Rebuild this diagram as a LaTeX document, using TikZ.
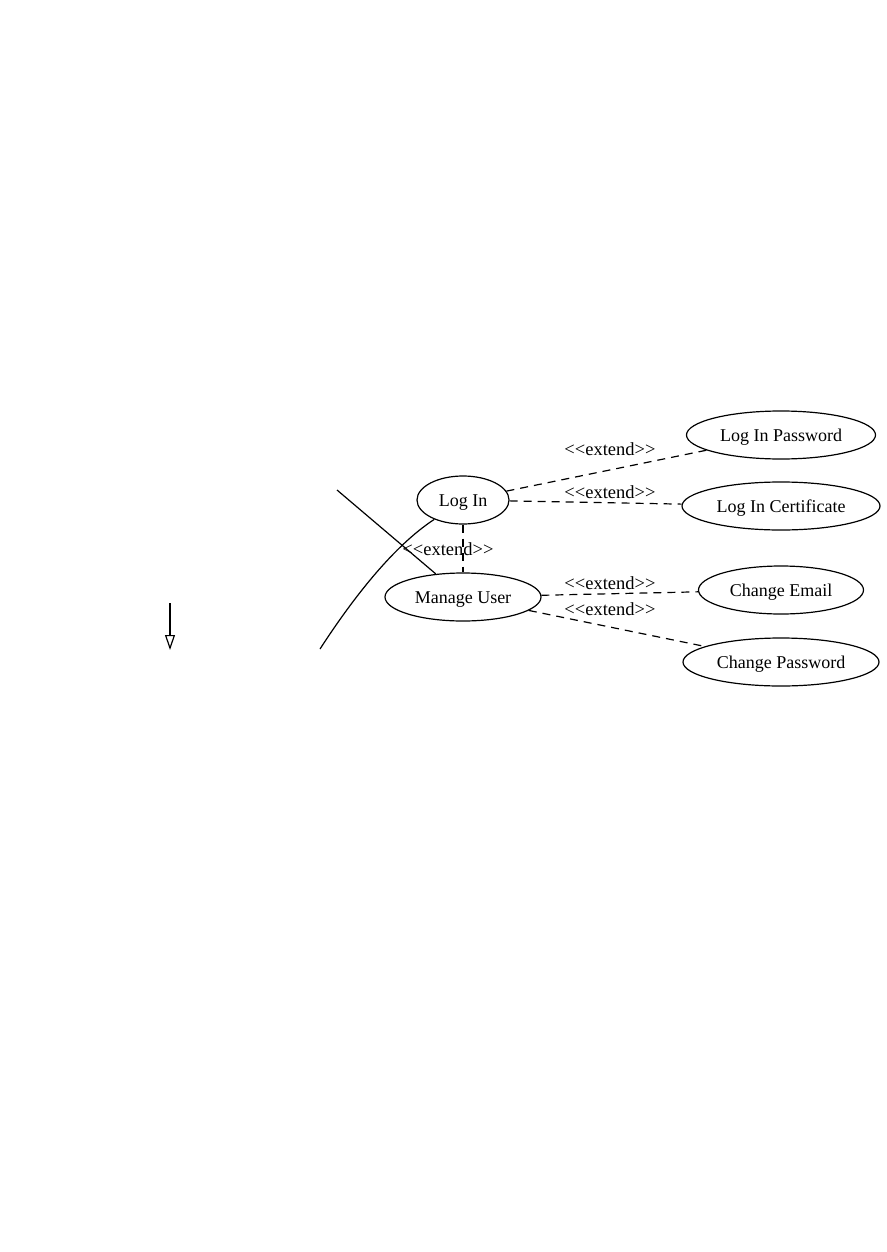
\documentclass[tikz,border=0pt]{standalone}
\usepackage{fontspec}
\setmainfont{Liberation Serif}
\usetikzlibrary{shapes.geometric,arrows.meta}
\newcommand{\extendtext}{<\kern0pt<extend>\kern0pt>}
\tikzset{
  usecase/.style={draw, ellipse, inner sep=0pt, minimum height=48pt,
    text height=14pt, text depth=2pt, font=\fontsize{18}{21}\selectfont},
  extendline/.style={dash pattern=on 8pt off 6pt},
  extlabel/.style={inner sep=0pt, font=\fontsize{18.5}{21}\selectfont},
}
\begin{document}
\begin{tikzpicture}[x=1pt,y=-1pt,line width=1.2pt]
  \useasboundingbox (0,0) rectangle (886,1252);
  %%% use cases
  \node (login) [usecase, minimum width=92pt] at (463,500) {Log In};
  \node (manage) [usecase, minimum width=156pt] at (463,597) {Manage User};
  %%%
  \node (lipw) [usecase, minimum width=189pt] at (781,435) {Log In Password};
  \node (licert) [usecase, minimum width=198pt] at (781,506) {Log In Certificate};
  \node (chmail) [usecase, minimum width=165pt] at (781,590) {Change Email};
  \node (chpw) [usecase, minimum width=196pt] at (781,662) {Change Password};
  %%% loose ends
  \path (337,490) coordinate (s1);
  \path (320,649) coordinate (s2);
  \path (170,603) coordinate (g1);
  \path (170,650) coordinate (g2);
  %%% Edges:
  \draw (s1) -- (manage);
  \draw (s2) .. controls (355,595) and (395,545) .. (login.214);
  \draw [-{Triangle[open,length=15pt,width=10pt]}] (g1) -- (g2);
  %%%
  \draw [extendline] (login) -- (lipw);
  \draw [extendline] (login) -- (licert);
  \draw [extendline] (login) -- (manage);
  \draw [extendline] (manage) -- (chmail);
  \draw [extendline] (manage) -- (chpw);
  %%% text
  \node (e1) [extlabel] at (610,449) {\extendtext};
  \node (e2) [extlabel] at (610,492) {\extendtext};
  \node (e3) [extlabel] at (448,549) {\extendtext};
  \node (e4) [extlabel] at (610,583) {\extendtext};
  \node (e5) [extlabel] at (610,609) {\extendtext};
\end{tikzpicture}
\end{document}
